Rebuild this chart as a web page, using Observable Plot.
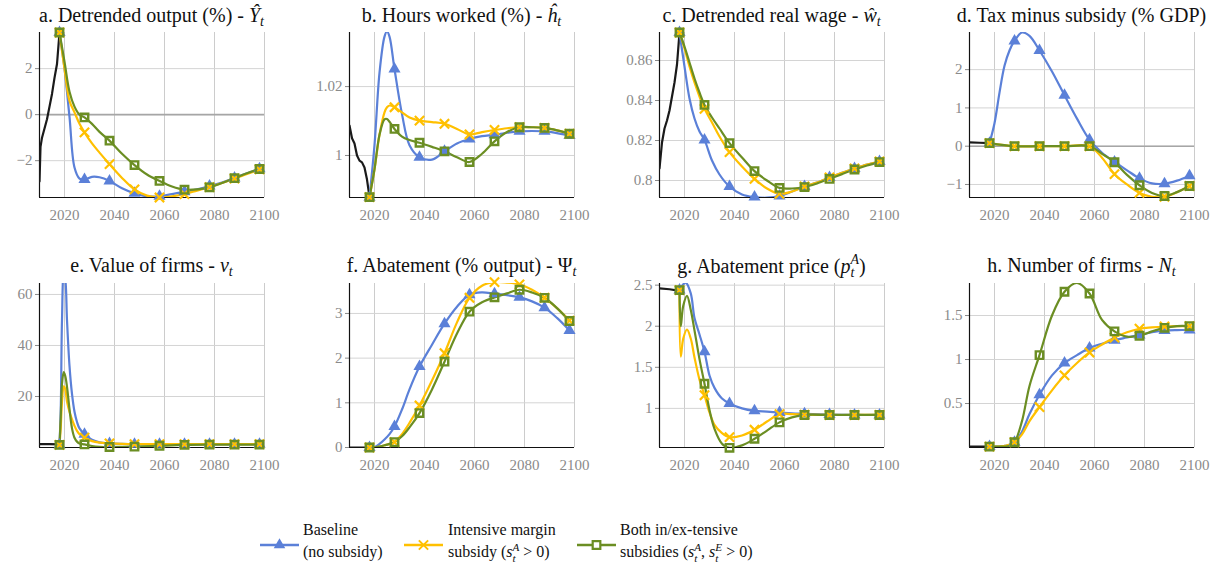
<!DOCTYPE html>
<html><head><meta charset="utf-8">
<script src="https://cdn.jsdelivr.net/npm/d3@7"></script>
<script src="https://cdn.jsdelivr.net/npm/@observablehq/plot@0.6"></script>
<style>
body{margin:0;background:#fff;overflow:hidden}
#root{position:relative;width:1222px;height:573px;font-family:"Liberation Serif","DejaVu Serif","Noto Serif","FreeSerif","Nimbus Roman","Tinos","Times New Roman",serif;color:#111}
.title{position:absolute;transform:translateX(-50%);white-space:nowrap;font-size:20px;line-height:24px}
.title sub,.leg sub{font-size:0.7em;vertical-align:-0.25em;line-height:0}
.ss{display:inline-block;vertical-align:-4px;font-size:0.7em;line-height:0.95em;text-align:left}
.panel{position:absolute}
.legtxt{position:absolute;font-size:16px;line-height:22px;white-space:nowrap}
.legsym{position:absolute}
</style></head>
<body><div id="root"></div>
<script>
// ---------- DATA ----------
const stdYears = [2018,2020,2022,2024,2026,2028,2031,2034,2038,2043,2048,2053,2058,2063,2068,2073,2078,2083,2088,2093,2098];

// a. Detrended output
const histYearsA = [2010,2010.4,2011,2012,2013,2014,2015,2016,2017,2018];
const histA = [-2.9,-1.4,-1.0,-0.6,-0.2,0.35,0.9,1.6,2.2,3.57];
const baseA = [3.57,2.0,-0.1,-2.3,-2.78,-2.82,-2.7,-2.72,-2.88,-3.2,-3.42,-3.55,-3.55,-3.45,-3.35,-3.25,-3.1,-2.95,-2.75,-2.55,-2.35];
const intA  = [3.57,2.0,0.6,0.1,-0.4,-0.77,-1.25,-1.65,-2.15,-2.75,-3.25,-3.52,-3.6,-3.55,-3.45,-3.3,-3.15,-2.97,-2.78,-2.58,-2.38];
const bothA = [3.57,2.3,1.0,0.35,0.0,-0.12,-0.4,-0.75,-1.13,-1.7,-2.19,-2.6,-2.88,-3.12,-3.26,-3.25,-3.16,-2.97,-2.76,-2.55,-2.36];

// b. Hours worked
const histYearsB = [2010,2011,2012,2013,2014,2015,2016,2017,2018];
const histB = [1.0087,1.005,1.0035,1.0,0.9985,0.998,0.9965,0.993,0.9879];
const yearsB = [2018,2020,2022,2024,2025,2026,2028,2031,2034,2038,2043,2048,2053,2058,2063,2068,2073,2078,2083,2088,2093,2098];
const baseB = [0.9879,1.003,1.024,1.0345,1.036,1.0345,1.0251,1.012,1.003,0.9995,0.9988,1.0012,1.0035,1.0048,1.0056,1.006,1.0066,1.007,1.0071,1.007,1.0065,1.0058];
const intB  = [0.9879,0.996,1.006,1.0125,1.014,1.0145,1.014,1.0125,1.011,1.0101,1.0097,1.0092,1.0077,1.0061,1.0068,1.0074,1.0079,1.0082,1.0082,1.008,1.0073,1.0063];
const bothB = [0.9879,0.996,1.006,1.0105,1.0106,1.0098,1.0077,1.0055,1.0045,1.0037,1.0025,1.0012,0.9995,0.9981,1.0005,1.0041,1.0068,1.0082,1.0082,1.008,1.0073,1.0063];

// c. Detrended real wage
const histYearsC = [2010,2011,2012,2013,2014,2015,2016,2017,2018];
const histC = [0.806,0.819,0.826,0.83,0.835,0.842,0.849,0.858,0.874];
const baseC = [0.874,0.857,0.841,0.831,0.8245,0.8203,0.81,0.803,0.797,0.793,0.7917,0.7914,0.7922,0.7945,0.797,0.799,0.8015,0.8038,0.806,0.808,0.8095];
const intC  = [0.874,0.866,0.857,0.849,0.842,0.8358,0.829,0.822,0.8142,0.807,0.8008,0.796,0.7933,0.7945,0.797,0.799,0.8015,0.8038,0.806,0.808,0.8095];
const bothC = [0.874,0.867,0.859,0.851,0.844,0.8378,0.8315,0.826,0.8187,0.8115,0.8047,0.8,0.7963,0.796,0.7967,0.7985,0.8008,0.8032,0.8055,0.8075,0.8092];

// d. Tax minus subsidy
const histYearsD = [2010,2014,2018];
const histD = [0.1,0.09,0.08];
const baseD = [0.08,0.6,1.4,2.1,2.5,2.75,2.97,2.88,2.5,1.95,1.33,0.72,0.17,-0.17,-0.41,-0.63,-0.84,-0.97,-0.98,-0.9,-0.77];
const intD  = [0.08,null,null,null,null,0,null,null,0,null,0,null,0,-0.3,-0.73,-1.0,-1.22,-1.32,-1.32,-1.2,-1.04];
const bothD = [0.08,null,null,null,null,0,null,null,0,null,0,null,0,-0.2,-0.42,-0.75,-1.02,-1.22,-1.3,-1.2,-1.04];

// e. Value of firms
const histYearsE = [2010,2014,2018];
const histE = [1.3,1.3,1.2];
const yearsE = [2018,2018.5,2019,2019.7,2020.3,2021,2022,2023,2024,2025,2026,2028,2031,2034,2038,2043,2048,2058,2068,2078,2088,2098];
const baseE = [1,15,50,68,66,50,32,21,14,10,7.5,5.2,3,2,1.6,1.4,1.3,1.3,1.3,1.3,1.3,1.3];
const intE  = [1,8,18,24,23,18,14,11,8.5,6.5,5.2,3.9,2.5,1.9,1.6,1.4,1.3,1.3,1.3,1.3,1.3,1.3];
const bothE = [1,12,25,29.6,28,23.8,15,7.5,3.8,2.3,1.6,1.2,0.6,0.3,0.2,0.25,0.35,0.7,1.0,1.1,1.1,1.1];

// f. Abatement
const histYearsF = [2010,2018];
const histF = [0,0];
const baseF = [0,0.01,0.08,0.18,0.3,0.47,0.85,1.3,1.81,2.3,2.77,3.15,3.42,3.47,3.44,3.41,3.36,3.27,3.13,2.9,2.62];
const intF  = [0,0,0.02,0.05,0.08,0.12,0.3,0.55,0.94,1.5,2.11,2.8,3.35,3.62,3.7,3.69,3.65,3.53,3.35,3.12,2.84];
const bothF = [0,0,0.02,0.05,0.08,0.12,0.25,0.45,0.77,1.3,1.92,2.55,3.04,3.25,3.36,3.45,3.53,3.47,3.35,3.12,2.83];

// g. Abatement price
const histYearsG = [2010,2014,2018];
const histG = [2.46,2.45,2.43];
const yearsG = [2018,2018.5,2019.5,2020.5,2021,2022.5,2024,2026,2028,2030,2032,2035,2038,2043,2048,2053,2058,2063,2068,2078,2088,2098];
const baseG = [2.44,null,2.51,2.53,null,2.4,2.1,1.9,1.69,1.4,1.25,1.12,1.06,1.0,0.97,0.96,0.95,0.94,0.935,0.925,0.92,0.92];
const intG  = [2.44,1.63,1.85,null,1.96,1.85,1.62,1.35,1.16,0.95,0.8,0.7,0.65,0.67,0.74,0.84,0.93,0.93,0.925,0.92,0.92,0.92];
const bothG = [2.44,2.0,2.25,null,2.37,2.2,1.95,1.6,1.3,0.98,0.75,0.57,0.52,0.55,0.63,0.73,0.83,0.89,0.92,0.92,0.92,0.92];

// h. Number of firms
const histYearsH = [2010,2018];
const histH = [0.01,0.01];
const baseH = [0.01,0.01,0.01,0.02,0.03,0.06,0.18,0.38,0.6,0.82,0.96,1.05,1.13,1.18,1.22,1.25,1.28,1.31,1.33,1.335,1.335];
const intH  = [0.01,0.01,0.01,0.02,0.03,0.06,0.15,0.3,0.46,0.65,0.82,0.96,1.08,1.17,1.25,1.31,1.35,1.365,1.375,1.38,1.38];
const bothH = [0.01,0.01,0.01,0.01,0.02,0.06,0.3,0.7,1.05,1.5,1.77,1.87,1.75,1.45,1.32,1.26,1.27,1.32,1.36,1.38,1.38];

const xTicks = [2020,2040,2060,2080,2100];
const colors = ["#5b80d8","#ffc000","#6b8e23"];

const panels = [
  {id:"a", title:'a. Detrended output (%) - <i>Ŷ</i><sub><i>t</i></sub>', years:stdYears, hy:histYearsA, h:histA, s:[baseA,intA,bothA], domain:[-3.6,3.57], ticks:[-2,0,2], zero:true},
  {id:"b", title:'b. Hours worked (%) - <i>ĥ</i><sub><i>t</i></sub>', years:yearsB, hy:histYearsB, h:histB, s:[baseB,intB,bothB], domain:[0.9878,1.0357], ticks:[1,1.02]},
  {id:"c", title:'c. Detrended real wage - <i>ŵ</i><sub><i>t</i></sub>', years:stdYears, hy:histYearsC, h:histC, s:[baseC,intC,bothC], domain:[0.7915,0.874], ticks:[0.8,0.82,0.84,0.86]},
  {id:"d", title:'d. Tax minus subsidy (% GDP)', years:stdYears, hy:histYearsD, h:histD, s:[baseD,intD,bothD], domain:[-1.34,2.97], ticks:[-1,0,1,2], zero:true},
  {id:"e", title:'e. Value of firms - <i>v</i><sub><i>t</i></sub>', years:yearsE, hy:histYearsE, h:histE, s:[baseE,intE,bothE], domain:[0,64.3], ticks:[20,40,60]},
  {id:"f", title:'f. Abatement (% output) - Ψ<sub><i>t</i></sub>', years:stdYears, hy:histYearsF, h:histF, s:[baseF,intF,bothF], domain:[0,3.67], ticks:[0,1,2,3]},
  {id:"g", title:'g. Abatement price (<i>p</i><span class="ss"><i>A</i><br><i>t</i></span>)', years:yearsG, hy:histYearsG, h:histG, s:[baseG,intG,bothG], domain:[0.524,2.52], ticks:[1,1.5,2,2.5]},
  {id:"h", title:'h. Number of firms - <i>N</i><sub><i>t</i></sub>', years:stdYears, hy:histYearsH, h:histH, s:[baseH,intH,bothH], domain:[0,1.864], ticks:[0.5,1,1.5]}
];

// ---------- DRAW ----------
const root = document.getElementById("root");
const fmt = d => { const v = +(+d).toFixed(4); return (v < 0 ? "\u2212" : "") + Math.abs(v); };
const FONT = '"Liberation Serif","DejaVu Serif","Noto Serif","FreeSerif","Nimbus Roman","Tinos","Times New Roman",serif';

panels.forEach((p, i) => {
  const col = i % 4, row = Math.floor(i / 4);
  const left = col * 310, top = row === 0 ? 22 : 273;
  const plotH = row === 0 ? 165 : 164;
  const rows = arr => p.years.map((x, k) => ({x, y: arr[k]})).filter(d => d.y != null);
  const hist = p.hy.map((x, k) => ({x, y: p.h[k]}));
  const marks = [
    Plot.ruleX(xTicks, {stroke: "#cccccc", strokeWidth: 1}),
    Plot.ruleY(p.ticks, {stroke: "#d4d4d4", strokeWidth: 1}),
  ];
  if (p.zero) marks.push(Plot.ruleY([0], {stroke: "#a6a6a6", strokeWidth: 1.6}));
  marks.push(Plot.ruleX([2010], {stroke: "#111", strokeWidth: 1.2}));
  marks.push(Plot.ruleY([p.domain[0]], {stroke: "#111", strokeWidth: 1.2}));
  marks.push(Plot.line(hist, {x: "x", y: "y", stroke: "#1a1a1a", strokeWidth: 2.2, clip: true}));
  p.s.forEach((arr, k) => {
    marks.push(Plot.line(rows(arr), {x: "x", y: "y", stroke: colors[k], strokeWidth: 2.2, curve: "catmull-rom", clip: true}));
  });
  p.s.forEach((arr, k) => {
    const pts = rows(arr).filter(d => Math.abs((d.x - 2018) % 10) < 1e-9);
    if (k === 0) marks.push(Plot.dot(pts, {x: "x", y: "y", symbol: "triangle", fill: colors[0], r: 4.5}));
    if (k === 1) marks.push(Plot.dot(pts, {x: "x", y: "y", symbol: "times", stroke: colors[1], strokeWidth: 2.2, r: 4.3}));
    if (k === 2) marks.push(Plot.dot(pts, {x: "x", y: "y", symbol: "square", stroke: colors[2], fill: "none", strokeWidth: 2.4, r: 4.2}));
  });
  const svg = Plot.plot({
    width: 292, height: 10 + plotH + 38,
    marginLeft: 39, marginRight: 28, marginTop: 10, marginBottom: 38,
    style: {fontFamily: FONT, fontSize: "15px", color: "#8a8a8a", background: "transparent", overflow: "visible"},
    x: {domain: [2010, 2100], ticks: xTicks, tickFormat: d => String(d), tickSize: 0, tickPadding: 12, label: null},
    y: {domain: p.domain, ticks: p.ticks, tickFormat: fmt, tickSize: 4, tickPadding: 3, label: null},
    marks
  });
  svg.classList.add("panel");
  svg.style.left = left + "px";
  svg.style.top = top + "px";
  root.appendChild(svg);
  const t = document.createElement("div");
  t.className = "title";
  t.innerHTML = p.title;
  t.style.left = (left + 39 + 112.5) + "px";
  t.style.top = (row === 0 ? 3 : 253) + "px";
  root.appendChild(t);
});

// ---------- LEGEND ----------
const legItems = [
  {x0: 260, tx: 303, html: 'Baseline<br>(no subsidy)'},
  {x0: 404, tx: 448, html: 'Intensive margin<br>subsidy (<i>s</i><span class="ss" style="vertical-align:-5px"><i>A</i><br><i>t</i></span> &gt; 0)'},
  {x0: 577, tx: 620, html: 'Both in/ex-tensive<br>subsidies (<i>s</i><span class="ss" style="vertical-align:-5px"><i>A</i><br><i>t</i></span>, <i>s</i><span class="ss" style="vertical-align:-5px"><i>E</i><br><i>t</i></span> &gt; 0)'}
];
const symGen = [d3.symbolTriangle, d3.symbolTimes, d3.symbolSquare];
legItems.forEach((it, k) => {
  const s = d3.create("svg").attr("width", 40).attr("height", 20).attr("class", "legsym")
    .style("left", it.x0 + "px").style("top", "535px");
  s.append("line").attr("x1", 0).attr("x2", 39).attr("y1", 10).attr("y2", 10).attr("stroke", colors[k]).attr("stroke-width", 2.4);
  const path = d3.symbol(symGen[k], Math.PI * 4.3 * 4.3)();
  const g = s.append("path").attr("d", path).attr("transform", "translate(19.5,10)");
  if (k === 0) g.attr("fill", colors[0]);
  else if (k === 1) g.attr("fill", "none").attr("stroke", colors[1]).attr("stroke-width", 2);
  else g.attr("fill", "#fff").attr("stroke", colors[2]).attr("stroke-width", 2.2);
  root.appendChild(s.node());
  const t = document.createElement("div");
  t.className = "legtxt";
  t.innerHTML = it.html;
  t.style.left = it.tx + "px";
  t.style.top = "519px";
  root.appendChild(t);
});
</script>
</body></html>
